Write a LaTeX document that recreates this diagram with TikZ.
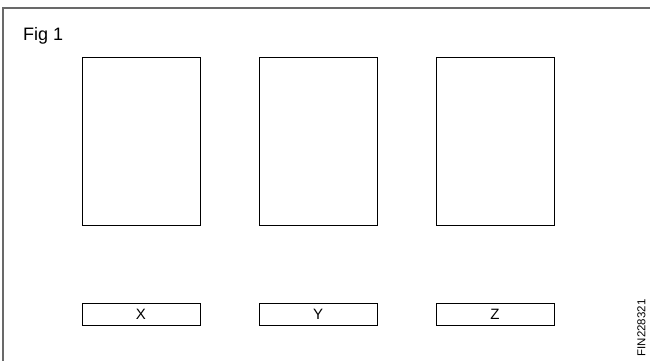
\documentclass[tikz,border=0pt]{standalone}
\usepackage{fontspec}
\setmainfont{Liberation Sans}
\usetikzlibrary{positioning}
\definecolor{FIGgray}{RGB}{105,105,105}
\tikzset{
  panel/.style={rectangle, draw=black, line width=1pt, fill=white, outer sep=0pt,
    minimum width=118pt, minimum height=168pt, inner sep=0pt},
  tagbox/.style={panel, minimum height=22pt, font=\fontsize{15}{17}\selectfont},
  figframe/.style={draw=FIGgray, line width=1.2pt},
}

\begin{document}
\begin{tikzpicture}[x=1pt, y=-1pt, node distance=78pt and 59pt]
    \useasboundingbox (0,0) rectangle (650,360);
    \clip (0,0) rectangle (650,360);
    \draw[figframe] (3,8) rectangle (670,380);
    \node[anchor=base west, inner sep=0pt, font=\fontsize{18}{20}\selectfont] (fig) at (23,40.5) {Fig 1};
    \node[panel, anchor=north west] (pX) at (82,57.5) {};
    \node[panel, right=of pX] (pY) {};
    \node[panel, right=of pY] (pZ) {};
    \node[tagbox, below=of pX] (tX) {X};
    \node[tagbox, below=of pY] (tY) {Y};
    \node[tagbox, below=of pZ] (tZ) {Z};
    \node[rotate=90, inner sep=0pt, font=\fontsize{11.5}{13}\selectfont] (code) at (641.5,328) {FIN228321};
  \end{tikzpicture}
\end{document}
